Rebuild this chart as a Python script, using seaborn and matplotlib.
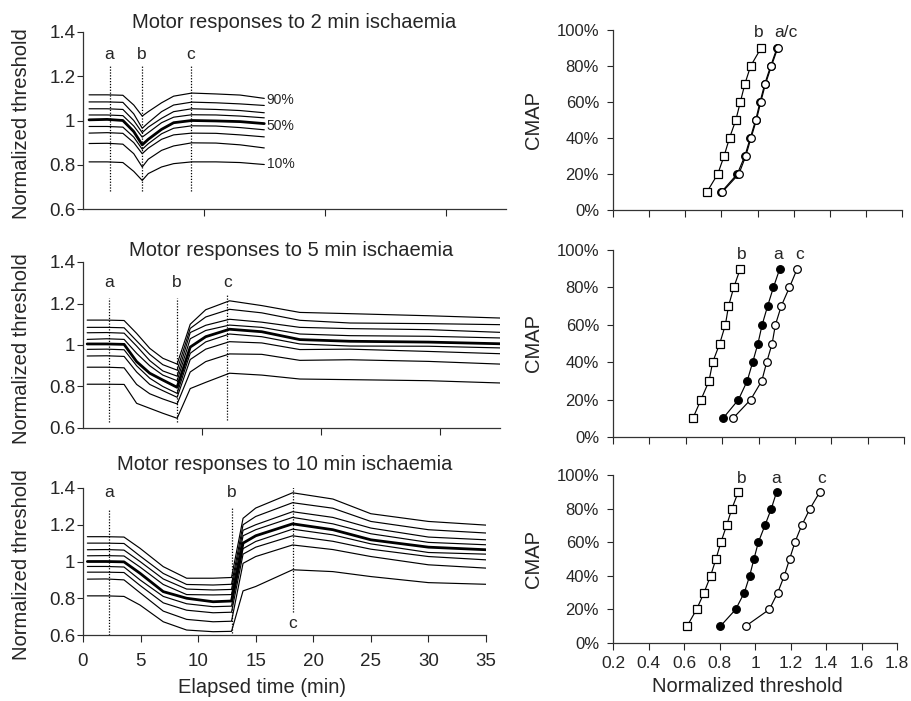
import matplotlib
matplotlib.use("Agg")
import matplotlib.pyplot as plt
import seaborn as sns
from matplotlib.ticker import FuncFormatter

sns.set_style("ticks")
plt.rcParams['font.family'] = ['Liberation Sans', 'DejaVu Sans']

# -----------------------------
# Datos: umbral normalizado (percentiles 10..90) frente al tiempo
# -----------------------------
pct_levels = [10, 20, 30, 40, 50, 60, 70, 80, 90]

t_2min = [0.5, 2.0, 3.3, 4.2, 4.9, 5.4, 6.5, 7.5, 9.0, 11.0, 13.0, 15.0]
thr_2min = [
    [0.813, 0.813, 0.810, 0.770, 0.729, 0.760, 0.790, 0.805, 0.813, 0.813, 0.810, 0.801],
    [0.896, 0.897, 0.893, 0.850, 0.790, 0.825, 0.865, 0.885, 0.899, 0.898, 0.890, 0.876],
    [0.943, 0.945, 0.942, 0.900, 0.850, 0.875, 0.915, 0.935, 0.943, 0.942, 0.935, 0.926],
    [0.973, 0.973, 0.970, 0.925, 0.870, 0.895, 0.940, 0.965, 0.976, 0.975, 0.968, 0.958],
    [1.003, 1.005, 1.000, 0.950, 0.890, 0.915, 0.960, 0.990, 1.000, 0.998, 0.995, 0.986],
    [1.025, 1.025, 1.022, 0.975, 0.925, 0.945, 0.990, 1.015, 1.026, 1.025, 1.020, 1.012],
    [1.053, 1.053, 1.050, 1.000, 0.945, 0.970, 1.010, 1.040, 1.053, 1.050, 1.045, 1.035],
    [1.084, 1.084, 1.082, 1.030, 0.965, 0.990, 1.040, 1.070, 1.083, 1.080, 1.075, 1.068],
    [1.116, 1.116, 1.114, 1.070, 1.020, 1.040, 1.080, 1.110, 1.124, 1.120, 1.115, 1.100],
]
events_2min = [2.2, 4.9, 8.9]

t_5min = [0.35, 2.0, 3.45, 4.5, 5.6, 6.7, 7.9, 9.0, 10.3, 12.3, 15.0, 18.2, 22.4, 29.0, 35.0]
thr_5min = [
    [0.811, 0.811, 0.810, 0.719, 0.695, 0.671, 0.647, 0.790, 0.820, 0.864, 0.855, 0.836, 0.833, 0.828, 0.817],
    [0.893, 0.893, 0.890, 0.810, 0.765, 0.740, 0.716, 0.870, 0.920, 0.957, 0.955, 0.926, 0.929, 0.921, 0.908],
    [0.947, 0.948, 0.945, 0.870, 0.810, 0.780, 0.748, 0.930, 0.980, 1.016, 1.010, 0.978, 0.980, 0.969, 0.958],
    [0.979, 0.980, 0.977, 0.900, 0.840, 0.800, 0.767, 0.960, 1.015, 1.053, 1.040, 1.005, 0.995, 0.994, 0.986],
    [1.005, 1.005, 1.003, 0.920, 0.864, 0.831, 0.796, 0.990, 1.040, 1.076, 1.064, 1.026, 1.018, 1.014, 1.006],
    [1.027, 1.030, 1.027, 0.960, 0.900, 0.855, 0.828, 1.030, 1.070, 1.096, 1.085, 1.053, 1.045, 1.042, 1.034],
    [1.059, 1.060, 1.057, 0.995, 0.925, 0.875, 0.850, 1.060, 1.095, 1.124, 1.110, 1.085, 1.079, 1.074, 1.061],
    [1.085, 1.085, 1.083, 1.020, 0.955, 0.905, 0.879, 1.080, 1.135, 1.172, 1.155, 1.119, 1.106, 1.103, 1.098],
    [1.120, 1.120, 1.118, 1.056, 0.984, 0.936, 0.908, 1.100, 1.170, 1.213, 1.190, 1.157, 1.151, 1.141, 1.130],
]
events_5min = [2.2, 7.9, 12.1]

t_10min = [0.38, 2.0, 3.56, 4.95, 6.97, 9.0, 11.3, 12.9, 13.9, 15.0, 18.2, 21.7, 25.0, 30.0, 35.0]
thr_10min = [
    [0.813, 0.813, 0.810, 0.763, 0.672, 0.627, 0.618, 0.620, 0.840, 0.864, 0.955, 0.945, 0.918, 0.885, 0.876],
    [0.904, 0.905, 0.900, 0.830, 0.730, 0.685, 0.672, 0.675, 0.990, 1.027, 1.090, 1.065, 1.027, 0.982, 0.964],
    [0.942, 0.942, 0.940, 0.870, 0.775, 0.735, 0.721, 0.724, 1.040, 1.078, 1.140, 1.110, 1.067, 1.027, 1.009],
    [0.973, 0.973, 0.970, 0.900, 0.810, 0.770, 0.754, 0.757, 1.070, 1.109, 1.176, 1.145, 1.096, 1.049, 1.040],
    [1.000, 1.000, 0.998, 0.936, 0.836, 0.800, 0.781, 0.785, 1.100, 1.140, 1.205, 1.173, 1.118, 1.078, 1.064],
    [1.031, 1.032, 1.030, 0.970, 0.875, 0.820, 0.818, 0.820, 1.140, 1.173, 1.240, 1.205, 1.151, 1.104, 1.091],
    [1.064, 1.065, 1.062, 1.000, 0.905, 0.850, 0.845, 0.848, 1.170, 1.200, 1.271, 1.240, 1.182, 1.133, 1.118],
    [1.100, 1.100, 1.098, 1.030, 0.935, 0.875, 0.872, 0.876, 1.200, 1.245, 1.320, 1.290, 1.218, 1.173, 1.155],
    [1.135, 1.135, 1.133, 1.072, 0.972, 0.909, 0.909, 0.913, 1.235, 1.291, 1.374, 1.340, 1.260, 1.218, 1.198],
]
events_10min = [2.25, 12.9, 18.2]

# -----------------------------
# Datos: distribución acumulada del CMAP en a, b, c
# -----------------------------
cmap_levels = [10, 20, 30, 40, 50, 60, 70, 80, 90]

cdf_2min_a = [0.800, 0.888, 0.930, 0.960, 0.990, 1.014, 1.040, 1.073, 1.108]
cdf_2min_b = [0.720, 0.780, 0.815, 0.845, 0.880, 0.905, 0.930, 0.962, 1.020]
cdf_2min_c = [0.805, 0.897, 0.935, 0.964, 0.994, 1.018, 1.044, 1.077, 1.112]

cdf_5min_a = [0.805, 0.890, 0.938, 0.968, 0.997, 1.020, 1.050, 1.082, 1.117]
cdf_5min_b = [0.639, 0.684, 0.728, 0.748, 0.787, 0.818, 0.835, 0.864, 0.900]
cdf_5min_c = [0.860, 0.957, 1.018, 1.045, 1.075, 1.093, 1.125, 1.170, 1.213]

cdf_10min_a = [0.805, 0.891, 0.940, 0.970, 0.994, 1.019, 1.056, 1.092, 1.122]
cdf_10min_b = [0.617, 0.671, 0.713, 0.750, 0.780, 0.808, 0.840, 0.870, 0.906]
cdf_10min_c = [0.947, 1.081, 1.128, 1.165, 1.195, 1.225, 1.263, 1.310, 1.366]

W, H = 911, 701
fig = plt.figure(figsize=(W / 100, H / 100), dpi=100)


def rect(x0, y0, x1, y1):
    return [x0 / W, 1 - y1 / H, (x1 - x0) / W, (y1 - y0) / H]


fmt_g = FuncFormatter(lambda v, p: f"{v:g}")
fmt_pct = FuncFormatter(lambda v, p: f"{v:.0f}%")


def style_axes(ax):
    sns.despine(ax=ax)
    for s in ['left', 'bottom']:
        ax.spines[s].set_linewidth(0.9)
        ax.spines[s].set_color('#333333')


def time_panel(box, t, rows, events, span, title, pad, show_x, lab_y, c_below=False):
    ax = fig.add_axes(rect(*box))
    for lvl, vals in zip(pct_levels, rows):
        sns.lineplot(x=t, y=vals, ax=ax, color='black', estimator=None, sort=False,
                     lw=2.0 if lvl == 50 else 0.85)
    for i, (ev, name) in enumerate(zip(events, ['a', 'b', 'c'])):
        lo, hi = span[i]
        ax.plot([ev, ev], [lo, hi], color='black', lw=0.9, ls=(0, (1, 1.3)))
        if c_below and name == 'c':
            ax.text(ev, 0.664, name, ha='center', va='center', fontsize=12.5)
        else:
            ax.text(ev, lab_y, name, ha='center', va='center', fontsize=12.5)
    ax.set_xlim(0, 35)
    ax.set_ylim(0.6, 1.4)
    ax.set_yticks([0.6, 0.8, 1.0, 1.2, 1.4])
    ax.yaxis.set_major_formatter(fmt_g)
    ax.tick_params(axis='y', labelsize=13.5, length=4, pad=1.5)
    if show_x:
        ax.set_xticks(range(0, 36, 5))
        ax.tick_params(axis='x', labelsize=13.5, length=5, pad=8)
        ax.set_xlabel("Elapsed time (min)", fontsize=14.5)
        w = box[2] - box[0]
        ax.xaxis.set_label_coords((262 - 83) / w, -(678 - 635) / (box[3] - box[1]))
    else:
        ax.set_xticks([10, 20, 30])
        ax.set_xticklabels([])
        ax.tick_params(axis='x', length=5)
    ax.set_ylabel("Normalized threshold", fontsize=14.5)
    ax.yaxis.set_label_coords((31 - box[0]) / (box[2] - box[0]), 0.48)
    ax.set_title(title, fontsize=14.5, pad=pad)
    style_axes(ax)
    return ax


def cdf_panel(box, a, b, c, labels, show_x):
    ax = fig.add_axes(rect(*box))
    sns.lineplot(x=b, y=cmap_levels, ax=ax, color='black', lw=0.85, estimator=None, sort=False,
                 marker='s', markersize=5.5, markerfacecolor='white', markeredgecolor='black',
                 markeredgewidth=0.9)
    sns.lineplot(x=a, y=cmap_levels, ax=ax, color='black', lw=0.85, estimator=None, sort=False,
                 marker='o', markersize=5.5, markerfacecolor='black', markeredgecolor='black',
                 markeredgewidth=0.9)
    sns.lineplot(x=c, y=cmap_levels, ax=ax, color='black', lw=0.85, estimator=None, sort=False,
                 marker='o', markersize=5.5, markerfacecolor='white', markeredgecolor='black',
                 markeredgewidth=0.9)
    for txt, x, y in labels:
        ax.text(x, y, txt, ha='center', va='center', fontsize=12.5)
    ax.set_xlim(0.2, 1.8)
    ax.set_ylim(0, 100)
    ax.set_xticks([0.2, 0.4, 0.6, 0.8, 1.0, 1.2, 1.4, 1.6, 1.8])
    ax.set_yticks(range(0, 101, 20))
    ax.yaxis.set_major_formatter(fmt_pct)
    ax.tick_params(axis='y', labelsize=12, length=4, pad=6)
    if show_x:
        ax.xaxis.set_major_formatter(fmt_g)
        ax.tick_params(axis='x', labelsize=12.5, length=5, pad=4)
        ax.set_xlabel("Normalized threshold", fontsize=14.5)
        ax.xaxis.set_label_coords((747 - box[0]) / (box[2] - box[0]), -(677 - box[3]) / (box[3] - box[1]))
    else:
        ax.set_xticklabels([])
        ax.tick_params(axis='x', length=5)
    ax.set_ylabel("CMAP", fontsize=14.5)
    ax.yaxis.set_label_coords((543 - box[0]) / (box[2] - box[0]), 0.5)
    style_axes(ax)
    return ax


# Paneles de la izquierda
ax1 = time_panel((83, 32, 506, 209), t_2min, thr_2min, events_2min,
                 [(0.68, 1.246), (0.68, 1.246), (0.68, 1.246)],
                 "Motor responses to 2 min ischaemia", 3, False, 1.30)
for txt, y in [("90%", 1.094), ("50%", 0.974), ("10%", 0.805)]:
    ax1.text(15.2, y, txt, ha='left', va='center', fontsize=10)

time_panel((83, 262, 500, 428), t_5min, thr_5min, events_5min,
           [(0.627, 1.227), (0.627, 1.227), (0.637, 1.24)],
           "Motor responses to 5 min ischaemia", 4, False, 1.30)

time_panel((83, 488, 486, 635), t_10min, thr_10min, events_10min,
           [(0.6, 1.285), (0.61, 1.295), (0.727, 1.41)],
           "Motor responses to 10 min ischaemia", 13, True, 1.373, c_below=True)

# Paneles de la derecha
cdf_panel((613, 30, 902, 210), cdf_2min_a, cdf_2min_b, cdf_2min_c,
          [("b", 1.005, 98.5), ("a/c", 1.16, 98.5)], False)
cdf_panel((613, 250, 904, 437), cdf_5min_a, cdf_5min_b, cdf_5min_c,
          [("b", 0.908, 97.5), ("a", 1.108, 97.5), ("c", 1.228, 97.5)], False)
cdf_panel((613, 475, 897, 643), cdf_10min_a, cdf_10min_b, cdf_10min_c,
          [("b", 0.923, 98), ("a", 1.118, 98), ("c", 1.374, 98)], True)

fig.savefig("out.png", dpi=100)
plt.close(fig)
